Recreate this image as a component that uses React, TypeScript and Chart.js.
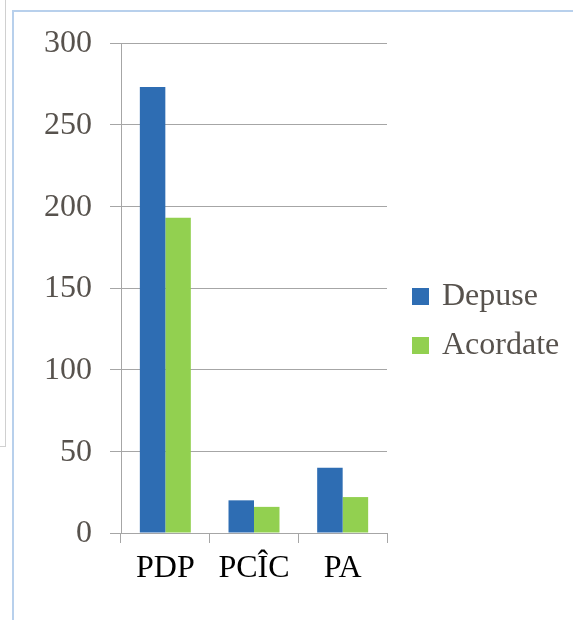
import React, { useEffect, useRef } from "react";
import { Chart, registerables } from "chart.js";

Chart.register(...registerables);

const categories = ["PDP", "PCÎC", "PA"];
const depuse = [273, 20, 40];
const acordate = [193, 16, 22];
const seriesNames = ["Depuse", "Acordate"];
const seriesColors = ["#2E6DB3", "#92D050"];

const FONT = "'Liberation Serif', 'Times New Roman', serif";

const legendPlugin = {
  id: "customLegend",
  afterDraw(chart: any) {
    const { ctx, chartArea } = chart;
    ctx.save();
    ctx.font = `32px ${FONT}`;
    ctx.textBaseline = "middle";
    ctx.textAlign = "left";
    const x0 = chartArea.right + 25;
    const yc = [296, 345];
    seriesNames.forEach((name, i) => {
      ctx.fillStyle = seriesColors[i];
      ctx.fillRect(x0, yc[i] - 8, 17, 17);
      ctx.fillStyle = "#57524d";
      ctx.fillText(name, x0 + 30, yc[i] + 1);
    });
    ctx.restore();
  },
};

export default function App() {
  const ref = useRef<HTMLCanvasElement>(null);
  useEffect(() => {
    if (!ref.current) return;
    const chart = new Chart(ref.current, {
      type: "bar",
      data: {
        labels: categories,
        datasets: [
          { label: seriesNames[0], data: depuse, backgroundColor: seriesColors[0] },
          { label: seriesNames[1], data: acordate, backgroundColor: seriesColors[1] },
        ],
      },
      options: {
        responsive: false,
        animation: false,
        events: [],
        datasets: { bar: { categoryPercentage: 0.575, barPercentage: 1.0 } },
        layout: { padding: { left: 0, right: 186, top: 43, bottom: 27 } },
        plugins: { legend: { display: false }, tooltip: { enabled: false } },
        scales: {
          x: {
            grid: {
              offset: true,
              drawOnChartArea: false,
              drawTicks: true,
              tickLength: 10,
              color: "#a6a6a6",
            },
            border: { display: true, color: "#a6a6a6" },
            ticks: { color: "#000000", font: { family: FONT, size: 32 }, padding: 6 },
            afterFit(s: any) {
              s.height = 60;
            },
          },
          y: {
            min: 0,
            max: 300,
            ticks: {
              stepSize: 50,
              color: "#57524d",
              font: { family: FONT, size: 32 },
              padding: 18,
              labelOffset: 1,
            },
            grid: { color: "#a6a6a6", tickLength: 11 },
            border: { display: true, color: "#a6a6a6" },
            afterFit(s: any) {
              s.width = 121;
            },
          },
        },
      },
      plugins: [legendPlugin],
    });
    return () => chart.destroy();
  }, []);
  return (
    <div style={{ position: "absolute", left: 0, top: 0, width: 573, height: 620, background: "#fff" }}>
      <div
        style={{
          position: "absolute",
          left: 0,
          top: -2,
          width: 5,
          height: 448,
          borderRight: "1px solid #d0d0d0",
          borderBottom: "1px solid #d0d0d0",
        }}
      />
      <div
        style={{
          position: "absolute",
          left: 12,
          top: 10,
          width: 600,
          height: 700,
          borderLeft: "2px solid #b8d0ec",
          borderTop: "2px solid #b8d0ec",
        }}
      />
      <canvas ref={ref} width={573} height={620} style={{ position: "absolute", left: 0, top: 0 }} />
    </div>
  );
}
